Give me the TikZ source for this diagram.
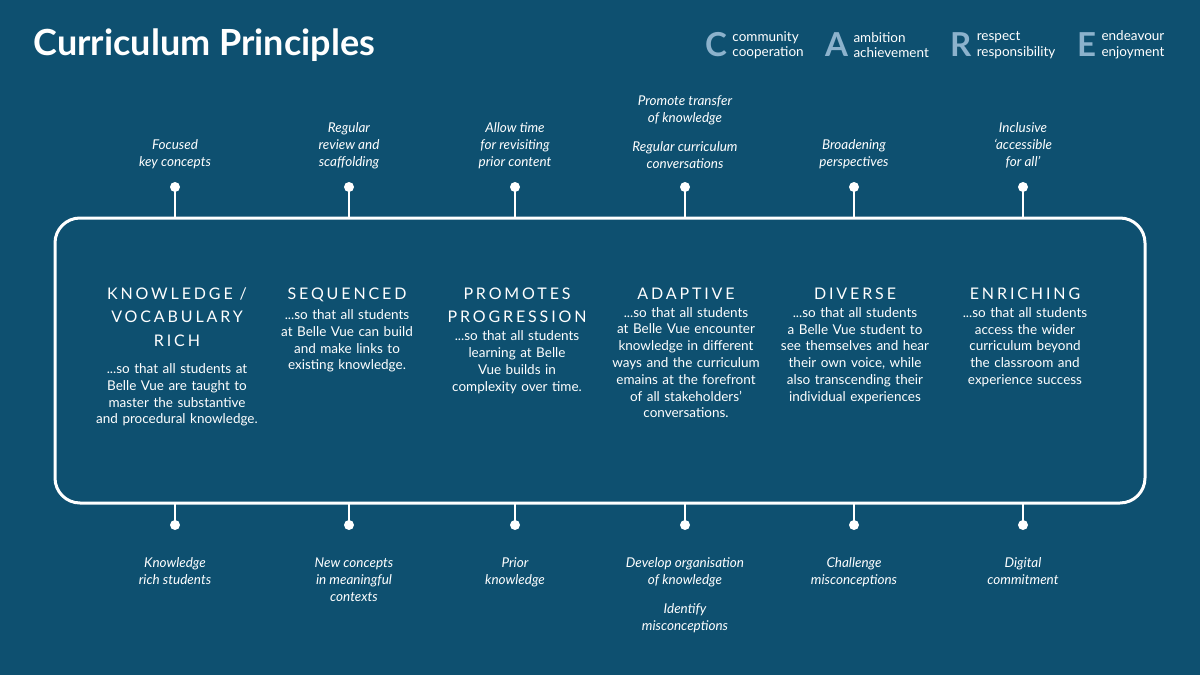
\documentclass[tikz,border=0pt]{standalone}
\usepackage{fontspec}
\setmainfont{Lato}
\newfontfamily\headfont[LetterSpace=18]{Lato}
\usetikzlibrary{positioning}
\hyphenpenalty=10000
\exhyphenpenalty=10000
\definecolor{bgblue}{RGB}{14,80,112}
\definecolor{letterblue}{RGB}{140,178,204}
\tikzset{
  note/.style={text=white, font=\fontsize{13.5}{17}\selectfont\itshape, align=center},
  head/.style={text=white, font=\fontsize{16}{23.5}\selectfont\headfont, align=center},
  body/.style={text=white, font=\fontsize{13.5}{16.8}\selectfont, align=center, text width=150pt},
  stem/.style={white, line width=2.5pt},
  bigletter/.style={text=letterblue, font=\fontsize{33}{33}\selectfont\bfseries, inner sep=0pt},
  legend/.style={text=white, font=\fontsize{13.5}{15.5}\selectfont, align=left, inner sep=0pt},
}
\begin{document}
\begin{tikzpicture}[x=1pt,y=-1pt]
\fill[bgblue] (0,0) rectangle (1200,675);
\useasboundingbox (0,0) rectangle (1200,675);

% Title
\node[anchor=west, text=white, font=\fontsize{36}{36}\selectfont\bfseries] (title) at (30,45) {Curriculum Principles};

% Legend
\node[bigletter, anchor=west] (lc) at (705,45) {C};
\node[legend, anchor=west, right=5pt of lc] (tc) {community\\cooperation};
\node[bigletter, anchor=west] (la) at (825,45) {A};
\node[legend, anchor=west, right=5pt of la] (ta) {ambition\\achievement};
\node[bigletter, anchor=west] (lr) at (950,45) {R};
\node[legend, anchor=west, right=5pt of lr] (tr) {respect\\responsibility};
\node[bigletter, anchor=west] (le) at (1077,45) {E};
\node[legend, anchor=west, right=5pt of le] (te) {endeavour\\enjoyment};

% Frame
\draw[white, line width=3pt, rounded corners=25pt] (55,218) rectangle (1145,503);

% Stems with dots
\foreach \x/\n in {175/a,349/b,515/c,685/d,854/e,1023/f}
{
    \coordinate (top\n) at (\x,187);
    \coordinate (bot\n) at (\x,525);
    \draw[stem] (top\n) -- (\x,218);
    \fill[white] (top\n) circle (5pt);
    \draw[stem] (\x,503) -- (bot\n);
    \fill[white] (bot\n) circle (5pt);
}

% Top notes
\node[note, anchor=south] (na) at (175,172) {Focused\\key concepts};
\node[note, anchor=south] (nb) at (349,172) {Regular\\review and\\scaffolding};
\node[note, anchor=south] (nc) at (515,172) {Allow time\\for revisiting\\prior content};
\node[note, anchor=south] (nd) at (685,172) {Promote transfer\\of knowledge\\[12pt]Regular curriculum\\conversations};
\node[note, anchor=south] (ne) at (854,172) {Broadening\\perspectives};
\node[note, anchor=south] (nf) at (1023,172) {Inclusive\\`accessible\\for all'};

% Headings and texts
\node[head, anchor=north] (ha) at (177,284) {KNOWLEDGE /\\VOCABULARY\\RICH};
\node[body, anchor=north, below=10pt of ha, text width=166pt] (ba) {...so that all students at Belle Vue are taught to master the substantive and procedural knowledge.};
\node[head, anchor=north] (hb) at (347,284) {SEQUENCED};
\node[body, anchor=north, below=1pt of hb] (bb) {...so that all students at Belle Vue can build and make links to existing knowledge.};
\node[head, anchor=north] (hc) at (517,284) {PROMOTES\\PROGRESSION};
\node[body, anchor=north, below=1pt of hc] (bc) {...so that all students learning at Belle Vue builds in complexity over time.};
\node[head, anchor=north] (hd) at (686,284) {ADAPTIVE};
\node[body, anchor=north, below=1pt of hd] (bd) {...so that all students at Belle Vue encounter knowledge in different ways and the curriculum emains at the forefront of all stakeholders' conversations.};
\node[head, anchor=north] (he) at (855,284) {DIVERSE};
\node[body, anchor=north, below=1pt of he] (be) {...so that all students a Belle Vue student to see themselves and hear their own voice, while also transcending their individual experiences};
\node[head, anchor=north] (hf) at (1025,284) {ENRICHING};
\node[body, anchor=north, below=1pt of hf] (bf) {...so that all students access the wider curriculum beyond the classroom and experience success};

% Bottom notes
\node[note, anchor=north] (ma) at (175,554) {Knowledge\\rich students};
\node[note, anchor=north] (mb) at (354,554) {New concepts\\in meaningful\\contexts};
\node[note, anchor=north] (mc) at (515,554) {Prior\\knowledge};
\node[note, anchor=north] (md) at (685,554) {Develop organisation\\of knowledge\\[12pt]Identify\\misconceptions};
\node[note, anchor=north] (me) at (854,554) {Challenge\\misconceptions};
\node[note, anchor=north] (mf) at (1023,554) {Digital\\commitment};
\end{tikzpicture}
\end{document}
